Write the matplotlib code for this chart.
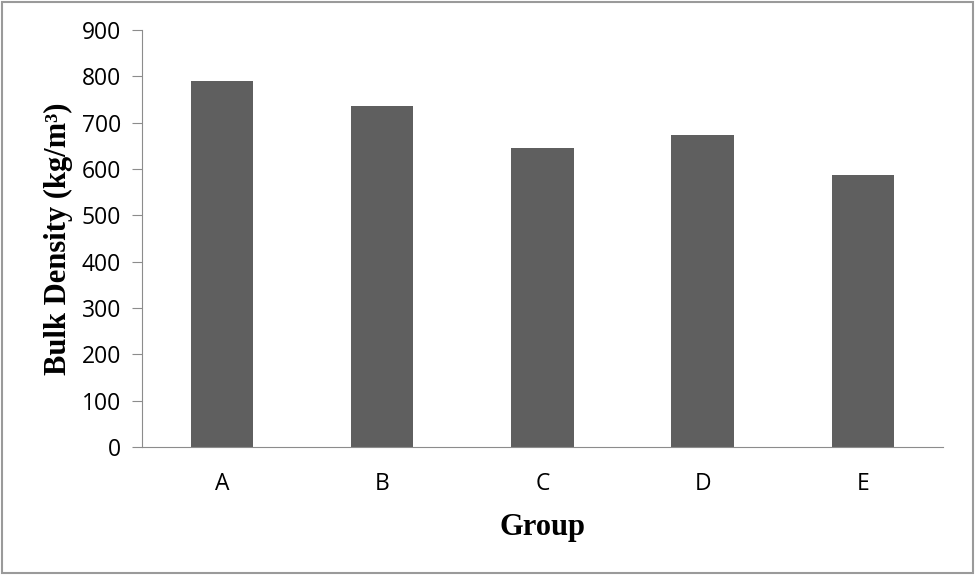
import numpy as np
import matplotlib.pyplot as plt
from matplotlib.patches import Rectangle

groups = ["A", "B", "C", "D", "E"]
bulk_density = [789, 737, 645, 674, 586]
y_ticks = [0, 100, 200, 300, 400, 500, 600, 700, 800, 900]

fig = plt.figure(figsize=(9.75, 5.75), dpi=100)
ax = fig.add_axes([0.1456, 0.2226, 0.967 - 0.1456, 0.9478 - 0.2226])

x = np.arange(len(groups))
ax.bar(x, bulk_density, width=0.39, color='#5f5f5f', zorder=2)

ax.set_xlim(-0.5, len(groups) - 0.5)
ax.set_ylim(0, 900)
ax.set_yticks(y_ticks)
ax.set_xticks(x)
ax.set_xticklabels(groups)

for s in ['top', 'right']:
    ax.spines[s].set_visible(False)
ax.spines['left'].set_color('#8c8c8c')
ax.spines['bottom'].set_color('#8c8c8c')
ax.tick_params(axis='y', length=7, color='#8c8c8c', labelsize=16.5, pad=8)
ax.tick_params(axis='x', length=0, labelsize=16.5, pad=18)
for lab in ax.get_xticklabels() + ax.get_yticklabels():
    lab.set_fontfamily('Open Sans')

ax.set_xlabel("Group", fontfamily='Liberation Serif', fontweight='bold',
              fontsize=22, labelpad=12)
ax.set_ylabel("Bulk Density (kg/m³)", fontfamily='Liberation Serif',
              fontweight='bold', fontsize=22, labelpad=6)

# grey frame around the whole picture
fig.patches.append(Rectangle((0.002, 0.003), 0.996, 0.994, transform=fig.transFigure,
                             fill=False, edgecolor='#9a9a9a', linewidth=1.5))

fig.savefig("out.png", dpi=100)
